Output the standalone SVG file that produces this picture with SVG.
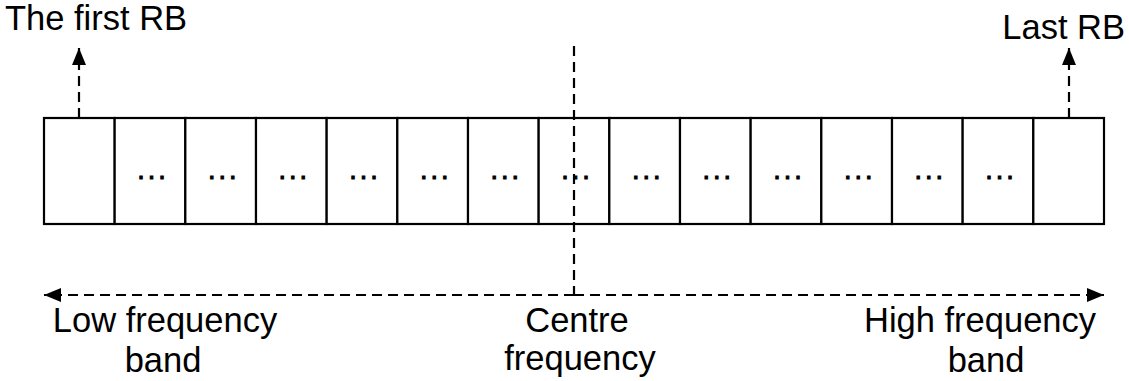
<svg xmlns="http://www.w3.org/2000/svg" width="1129" height="381" viewBox="0 0 1129 381">
<style>
.cell{fill:#fff;stroke:#000;stroke-width:2.2}
.dash{fill:none;stroke:#000;stroke-width:2.2;stroke-dasharray:10,6}
.lbl{font-family:"Liberation Sans",Arial,sans-serif;font-size:34.5px;fill:#000}
.dots{font-family:"Liberation Sans",Arial,sans-serif;font-size:27px;letter-spacing:3px;fill:#000;stroke:#000;stroke-width:1;text-anchor:middle}
</style>
<defs>
<marker id="ah" viewBox="0 0 17 14" refX="17" refY="7" markerWidth="17" markerHeight="14" markerUnits="userSpaceOnUse" orient="auto">
<path d="M0,0 L17,7 L0,14 Z" fill="#000"/>
</marker>
</defs>
<g id="rb-row">
<rect class="cell" x="44" y="118" width="70.67" height="106"/>
<rect class="cell" x="114.67" y="118" width="70.67" height="106"/>
<rect class="cell" x="185.33" y="118" width="70.67" height="106"/>
<rect class="cell" x="256" y="118" width="70.67" height="106"/>
<rect class="cell" x="326.67" y="118" width="70.67" height="106"/>
<rect class="cell" x="397.33" y="118" width="70.67" height="106"/>
<rect class="cell" x="468" y="118" width="70.67" height="106"/>
<rect class="cell" x="538.67" y="118" width="70.67" height="106"/>
<rect class="cell" x="609.33" y="118" width="70.67" height="106"/>
<rect class="cell" x="680" y="118" width="70.67" height="106"/>
<rect class="cell" x="750.67" y="118" width="70.67" height="106"/>
<rect class="cell" x="821.33" y="118" width="70.67" height="106"/>
<rect class="cell" x="892" y="118" width="70.67" height="106"/>
<rect class="cell" x="962.67" y="118" width="70.67" height="106"/>
<rect class="cell" x="1033.33" y="118" width="70.67" height="106"/>
<text class="dots" x="153" y="179">...</text>
<text class="dots" x="223.7" y="179">...</text>
<text class="dots" x="294.3" y="179">...</text>
<text class="dots" x="365" y="179">...</text>
<text class="dots" x="435.7" y="179">...</text>
<text class="dots" x="506.3" y="179">...</text>
<text class="dots" x="577" y="179">...</text>
<text class="dots" x="647.7" y="179">...</text>
<text class="dots" x="718.3" y="179">...</text>
<text class="dots" x="789" y="179">...</text>
<text class="dots" x="859.7" y="179">...</text>
<text class="dots" x="930.3" y="179">...</text>
<text class="dots" x="1001" y="179">...</text>
</g>
<g id="connectors">
<line class="dash" x1="79" y1="118" x2="79" y2="48" marker-end="url(#ah)"/>
<line class="dash" x1="1069" y1="118" x2="1069" y2="48" marker-end="url(#ah)"/>
<line class="dash" x1="574" y1="46" x2="574" y2="295"/>
<line class="dash" x1="574" y1="295" x2="44" y2="295" marker-end="url(#ah)"/>
<line class="dash" x1="574" y1="295" x2="1104" y2="295" marker-end="url(#ah)"/>
</g>
<g id="label-first"><text class="lbl" x="5" y="30">The first RB</text></g>
<g id="label-last"><text class="lbl" x="1125" y="39" text-anchor="end">Last RB</text></g>
<g id="label-low"><text class="lbl" text-anchor="middle"><tspan x="165" y="332">Low frequency</tspan><tspan x="163" y="372">band</tspan></text></g>
<g id="label-centre"><text class="lbl" text-anchor="middle"><tspan x="577" y="332">Centre</tspan><tspan x="580" y="370">frequency</tspan></text></g>
<g id="label-high"><text class="lbl" text-anchor="middle"><tspan x="980" y="332">High frequency</tspan><tspan x="986" y="372">band</tspan></text></g>
</svg>
